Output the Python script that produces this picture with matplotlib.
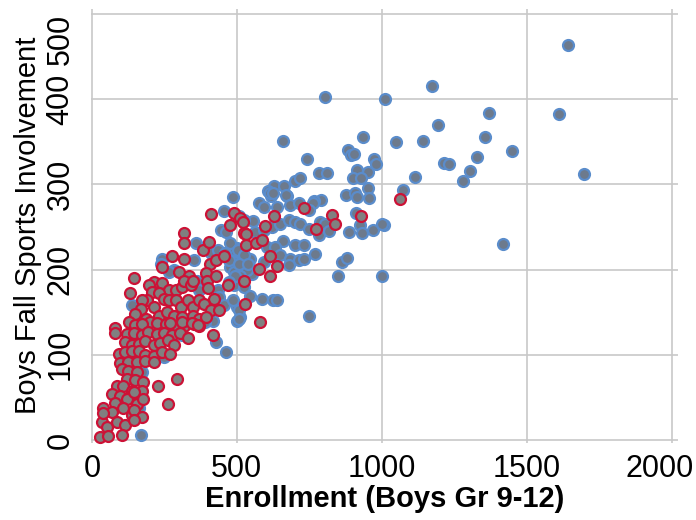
import numpy as np
import matplotlib
matplotlib.use('Agg')
import matplotlib.pyplot as plt
import matplotlib.transforms as mtransforms

plt.rcParams['font.family'] = ['Liberation Sans', 'DejaVu Sans']

# schools that are not highlighted (blue-grey dots)
blue_x = [1640, 1368, 1612, 1354, 1450, 1328, 1303, 1281, 1213, 1231, 1698, 1416, 1193,
          1173, 1010, 1047, 1141, 1115, 1073, 1007, 1000,
          805, 660, 935, 882, 893, 905, 741, 972, 981, 784, 812, 914, 953, 700, 718,
          901, 928, 627, 663, 608, 617, 953, 672, 876, 908, 914, 790, 767, 956,
          615, 626, 670, 575, 592, 638, 684, 713, 762, 750, 557, 621, 649, 678, 701,
          718, 747, 787, 804, 911, 925, 931, 971, 1000, 885, 782, 819, 563, 592, 659,
          701, 732, 770, 500, 489, 477, 603, 632, 649, 684, 713, 730, 678, 592, 546,
          500, 517, 477, 489, 552, 534, 511, 491, 523, 862, 879, 850, 544, 586, 626,
          638, 502, 511, 502, 749,
          457, 509, 526, 445, 463, 359, 243, 237, 283, 266, 353, 411, 434, 460, 474,
          503, 526, 509, 538, 364, 370, 434, 440, 492, 474, 457, 486, 509, 506, 417,
          391, 310, 427, 462, 247, 172, 161, 170, 137, 487]
blue_y = [464, 384, 383, 356, 339, 332, 316, 304, 325, 324, 312, 230, 370,
          416, 400, 350, 351, 309, 293, 252, 193,
          403, 351, 356, 341, 334, 336, 330, 330, 324, 314, 314, 317, 315, 304, 307,
          307, 307, 298, 298, 292, 286, 296, 286, 288, 290, 285, 282, 281, 284,
          290, 290, 288, 278, 274, 274, 276, 278, 278, 270, 257, 250, 254, 258, 256,
          254, 248, 256, 254, 266, 252, 243, 247, 253, 244, 241, 245, 244, 246, 234,
          229, 229, 218, 225, 223, 231, 227, 226, 217, 212, 211, 213, 206, 209, 213,
          209, 211, 203, 197, 195, 199, 193, 182, 180, 209, 214, 193, 169, 165, 164,
          164, 156, 144, 140, 145,
          269, 263, 258, 246, 244, 231, 213, 207, 199, 197, 211, 219, 223, 219, 211,
          223, 217, 207, 207, 187, 176, 176, 168, 193, 186, 158, 164, 152, 142, 140,
          138, 123, 115, 103, 97, 80, 38, 6, 158, 285]

# highlighted schools (red outlined dots)
red_x = [1063, 829, 839, 927, 773, 730, 629, 598, 491, 511, 522, 477, 523, 532, 532,
         567, 586, 615, 640, 577, 613, 523, 529, 580,
         411, 318, 318, 382, 403, 278, 318, 243, 407, 428, 457, 301, 336, 393, 397,
         428, 145, 214, 243, 266, 289, 312, 318, 341, 347, 399, 469, 422, 133, 197,
         208, 191, 231, 249, 266, 289, 307, 330, 347, 370, 388, 411, 440, 174, 168,
         150, 214, 231, 260, 283, 312, 347, 370, 393, 185, 202, 127, 150, 174, 81,
         226, 255, 289, 318, 353, 370, 270, 310, 345, 365,
         80, 121, 144, 172, 195, 224, 247, 276, 304, 331, 416,
         115, 138, 161, 184, 213, 236, 264, 282,
         92, 115, 138, 161, 184, 213, 241, 270,
         98, 126, 155, 184, 213, 103, 126, 155, 121, 149, 178, 293,
         86, 109, 138, 172, 228, 69, 98, 121, 144, 155, 178, 262,
         40, 80, 69, 109, 138, 144, 172, 34, 52, 86, 115, 144, 29, 57, 103, 39]
red_y = [283, 264, 253, 263, 248, 272, 263, 251, 267, 261, 256, 252, 243, 242, 229,
         231, 235, 216, 204, 201, 193, 187, 160, 138,
         265, 243, 231, 223, 233, 216, 213, 203, 207, 211, 216, 197, 193, 196, 187,
         193, 190, 186, 184, 176, 176, 179, 187, 182, 187, 178, 182, 166, 172, 182,
         174, 164, 172, 166, 164, 164, 156, 164, 156, 164, 160, 152, 152, 164, 154,
         148, 156, 146, 150, 146, 144, 146, 142, 144, 142, 138, 138, 135, 136, 131,
         137, 136, 134, 134, 136, 134, 137, 138, 137, 135,
         125, 124, 126, 123, 127, 124, 126, 123, 125, 120, 123,
         115, 111, 113, 116, 112, 114, 117, 112,
         101, 103, 104, 104, 100, 99, 103, 101,
         90, 92, 91, 93, 91, 83, 81, 80, 71, 70, 68, 72,
         63, 63, 58, 57, 63, 54, 52, 48, 56, 42, 48, 42,
         37, 43, 33, 37, 29, 35, 27, 21, 15, 21, 17, 23, 3, 5, 6, 32]

x_ticks = [0, 500, 1000, 1500, 2000]
y_ticks = [0, 100, 200, 300, 400, 500]

fig = plt.figure(figsize=(6.96, 5.2), dpi=100)
ax = fig.add_axes([91 / 696, 1 - 442.5 / 520, 587 / 696, 433.5 / 520])

ax.scatter(blue_x, blue_y, s=62, facecolor='#6d7a8c', edgecolor='#5a8ccb',
           linewidth=1.6, zorder=3, clip_on=False)
ax.scatter(red_x, red_y, s=62, facecolor='#808080', edgecolor='#cc1236',
           linewidth=1.6, zorder=4, clip_on=False)

ax.set_xlim(-3, 2021)
ax.set_ylim(-3, 506)
ax.set_xticks(x_ticks)
ax.set_yticks(y_ticks)

for s in ax.spines.values():
    s.set_visible(False)
ax.grid(True, color='#c8c8c8', linewidth=1.2)
ax.set_axisbelow(True)
ax.tick_params(length=0, labelsize=22)
ax.tick_params(axis='x', pad=8)
ax.tick_params(axis='y', pad=11)

for lbl in ax.get_yticklabels():
    lbl.set_rotation(90)
    lbl.set_va('center')
ax.get_yticklabels()[-1].set_va('top')

# keep the last x label inside the figure
last = ax.get_xticklabels()[-1]
last.set_transform(last.get_transform() +
                   mtransforms.ScaledTranslation(-0.12, 0, fig.dpi_scale_trans))

ax.set_xlabel('Enrollment (Boys Gr 9-12)', fontsize=21, fontweight='bold', labelpad=1)
ax.set_ylabel('Boys Fall Sports Involvement', fontsize=21, labelpad=3)

fig.savefig('out.png', dpi=100)
